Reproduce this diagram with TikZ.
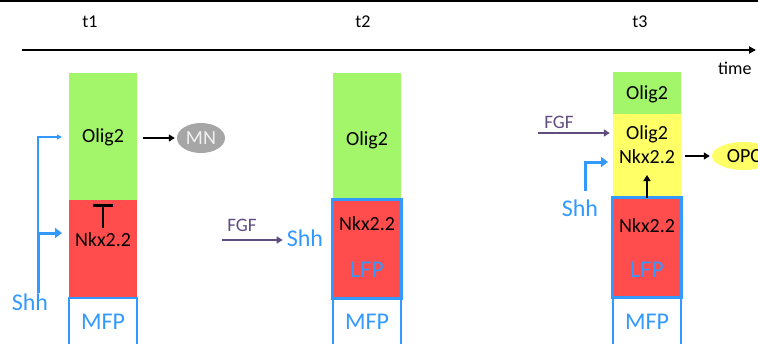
\documentclass[tikz,border=0pt]{standalone}
\usepackage{fontspec}
\setmainfont{Carlito}
\usetikzlibrary{positioning,arrows.meta,shapes.geometric}
\definecolor{oligc}{RGB}{163,245,106}
\definecolor{nkxc}{RGB}{255,76,76}
\definecolor{bothc}{RGB}{255,255,102}
\definecolor{shhc}{RGB}{51,153,255}
\definecolor{fgfc}{RGB}{96,76,128}
\definecolor{mnc}{RGB}{166,166,166}
\tikzset{
  txt/.style={inner sep=0pt, font=\fontsize{20}{22}\selectfont},
  small/.style={inner sep=0pt, font=\fontsize{18}{20}\selectfont},
  bluetxt/.style={inner sep=0pt, text=shhc, font=\fontsize{24}{26}\selectfont},
  fgftxt/.style={inner sep=0pt, text=fgfc, font=\fontsize{19}{21}\selectfont},
  cell/.style={inner sep=0pt, minimum width=68pt},
  blk/.style={line width=1.8pt, -{Triangle[length=6pt,width=7pt]}},
  fgfarr/.style={fgfc, line width=2.2pt, -{Triangle[length=6pt,width=7pt]}},
  shhthin/.style={shhc, line width=1.3pt, -{Triangle[length=5pt,width=5pt]}},
  shhthick/.style={shhc, line width=3pt, -{Triangle[length=7pt,width=10pt]}},
  lfp/.style={draw=shhc, line width=3pt}
}
\begin{document}
\begin{tikzpicture}[x=1pt, y=-1pt]
  \useasboundingbox (0,0) rectangle (758,343);

  %% time line
  \draw[line width=1.5pt] (0,0.75) -- (758,0.75);
  \coordinate (tl) at (22,50);
  \coordinate (tr) at (756,50);
  \draw[line width=1.8pt, -{Triangle[length=7pt,width=7pt]}] (tl) -- (tr);
  \node[small] (t1) at (90,22) {t1};
  \node[small] (t2) at (363,22) {t2};
  \node[small] (t3) at (640,22) {t3};
  \node[small, anchor=west] (time) at (718,68) {time};

  %% t1
  \node[cell, fill=oligc, minimum height=127pt] (g1) at (103,136.5) {};
  \node[cell, fill=nkxc, minimum height=98pt] (r1) at (103,249) {};
  \draw[shhc, line width=1.3pt] (69,345) -- (69,298) -- (137,298) -- (137,345);
  \node[txt] (o1) at (103,137) {Olig2};
  \node[txt] (n1) at (103,240) {Nkx2.2};
  \node[bluetxt] (m1) at (103,322) {MFP};
  \node[ellipse, fill=mnc, minimum width=48pt, minimum height=30pt, inner sep=0pt,
    text=white!85!mnc, font=\fontsize{20}{22}\selectfont] (mn) at (201,138) {MN};
  \draw[blk, shorten <=6pt, shorten >=2pt] (g1.east |- mn) -- (mn);
  \coordinate (tb) at (103,204);
  \draw[line width=2.5pt, -{Bar[width=20pt,line width=2.5pt]}] (103,228) -- (tb);
  \node[bluetxt] (s1) at (30,302) {Shh};
  \coordinate (j1) at (38,233);
  \coordinate (a1) at (62,137);
  \coordinate (b1) at (62,233);
  \draw[shhthin] (j1) |- (a1);
  \draw[shhthick] (s1.north -| j1) -- (j1) -- (b1);

  %% t2
  \node[cell, fill=oligc, minimum height=127pt] (g2) at (367,136.5) {};
  \node[cell, fill=nkxc, minimum height=98pt] (r2) at (367,249) {};
  \draw[shhc, line width=1.3pt] (333,345) -- (333,299) -- (401,299) -- (401,345);
  \draw[lfp] (r2.south west) rectangle (r2.north east);
  \node[txt] (o2) at (367,140) {Olig2};
  \node[txt] (n2) at (367,224) {Nkx2.2};
  \node[bluetxt] (l2) at (367,270) {LFP};
  \node[bluetxt] (m2) at (367,322) {MFP};
  \node[fgftxt] (f2) at (242,225) {FGF};
  \node[bluetxt] (s2) at (305,238) {Shh};
  \coordinate (fs2) at (222,240);
  \draw[fgfarr, shorten >=4pt] (fs2) -- (s2.west |- fs2);

  %% t3
  \node[cell, fill=oligc, minimum height=42pt] (g3) at (647,93) {};
  \node[cell, fill=bothc, minimum height=84pt] (y3) at (647,156) {};
  \node[cell, fill=nkxc, minimum height=99pt] (r3) at (647,247.5) {};
  \draw[shhc, line width=1.3pt] (613,345) -- (613,297) -- (681,297) -- (681,345);
  \draw[lfp] (r3.south west) rectangle (r3.north east);
  \node[txt] (o3) at (647,94) {Olig2};
  \node[txt, align=center] (on3) at (647,145) {Olig2\\[2pt]Nkx2.2};
  \node[txt] (n3) at (647,226) {Nkx2.2};
  \node[bluetxt] (l3) at (647,270) {LFP};
  \node[bluetxt] (m3) at (647,322) {MFP};
  \node[ellipse, fill=bothc, minimum width=64pt, minimum height=28pt, inner sep=0pt,
    font=\fontsize{20}{22}\selectfont] (opc) at (744,156) {OPC};
  \draw[blk, shorten <=4pt, shorten >=2pt] (y3.east |- opc) -- (opc);
  \coordinate (up3) at (647,175);
  \draw[blk] (r3.north) -- (up3);
  \node[fgftxt] (f3) at (559,122) {FGF};
  \coordinate (fs3) at (538,133);
  \draw[fgfarr, shorten >=3pt] (fs3) -- (y3.west |- fs3);
  \node[bluetxt] (s3) at (580,208) {Shh};
  \coordinate (j3) at (585,162);
  \coordinate (b3) at (608,162);
  \draw[shhthick] (585,191) -- (j3) -- (b3);
\end{tikzpicture}
\end{document}
